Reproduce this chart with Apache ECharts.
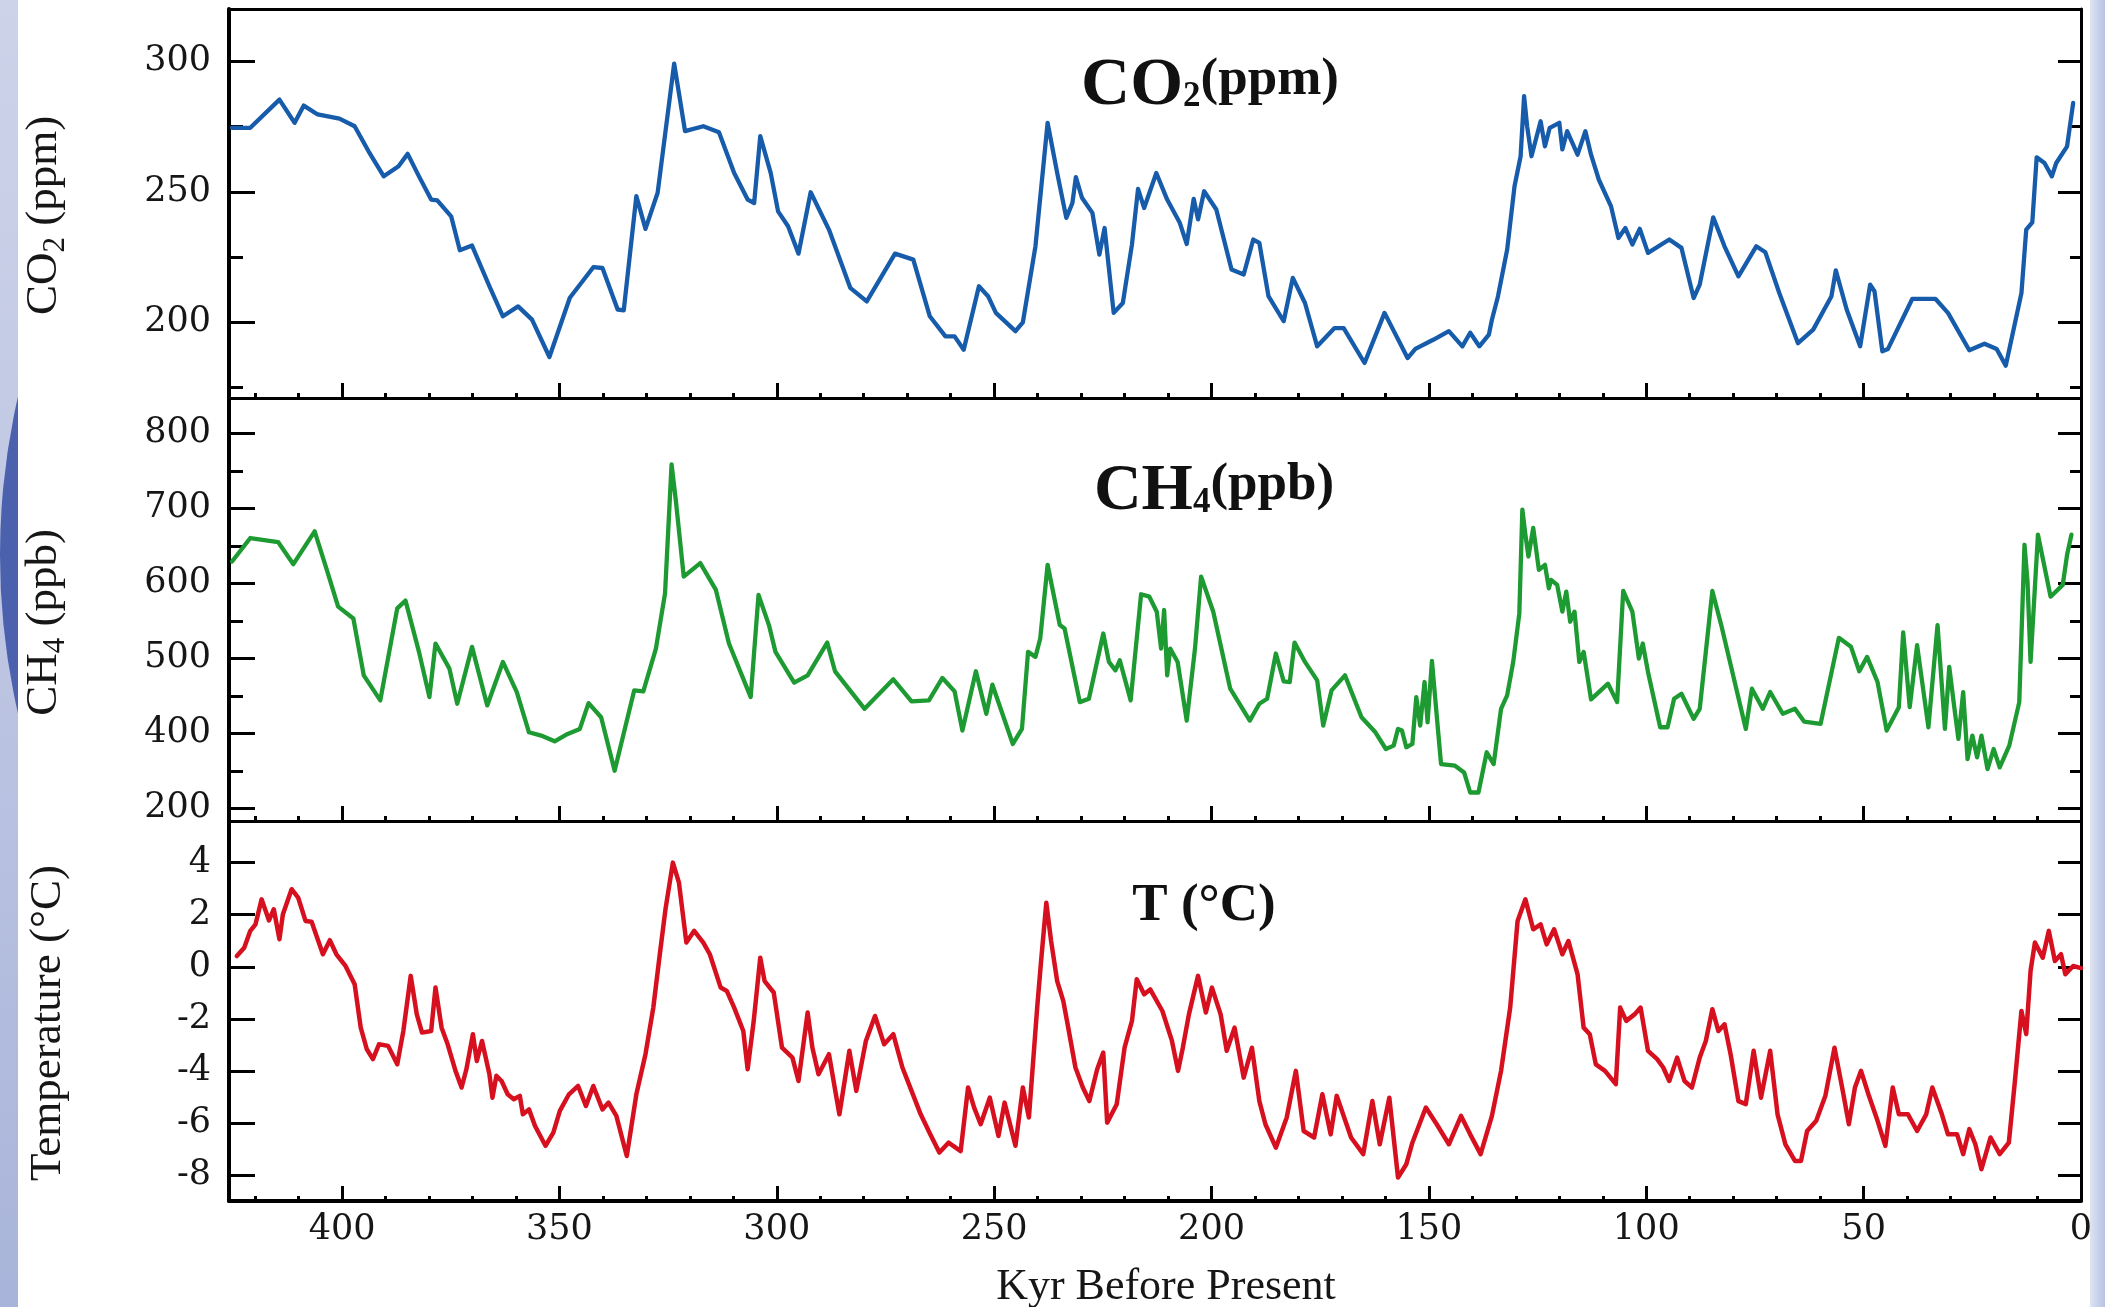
<!DOCTYPE html>
<html>
<head>
<meta charset="utf-8">
<script src="https://cdn.jsdelivr.net/npm/echarts@6.0.0/dist/echarts.min.js"></script>
<style>
html,body{margin:0;padding:0;width:2105px;height:1307px;overflow:hidden;background:#ffffff;}
#bgL{position:absolute;left:0;top:0;width:18px;height:1307px;overflow:hidden;
  background:linear-gradient(to bottom,#cdd3e9 0%,#c4cbe5 30%,#b7c0e0 65%,#a9b4da 100%);}
#cres{position:absolute;left:0;top:-151px;width:1412px;height:1412px;border-radius:50%;background:#4b61ad;}
#bgR{position:absolute;left:2090px;top:0;width:15px;height:1307px;
  background:linear-gradient(to right,#dfe4f2 0%,#c6cfe9 60%,#b9c4e4 100%);}
#chart{position:absolute;left:0;top:0;width:2105px;height:1307px;}
</style>
</head>
<body>
<div id="bgL"><div id="cres"></div></div>
<div id="bgR"></div>
<div id="chart"></div>
<script>
// ---------------- data ----------------
const co2Age = [
425.3,421.1,414.4,410.9,408.8,405.6,400.6,397.1,393.9,390.4,
387.0,384.9,382.3,379.5,378.1,374.9,372.9,370.1,366.1,363.0,
359.5,356.3,352.3,347.6,342.2,340.1,336.6,335.2,332.3,330.2,
327.4,323.6,321.1,316.9,313.3,309.8,306.7,305.2,303.8,301.4,
299.7,297.4,295.0,292.2,288.0,283.1,279.3,272.8,268.6,264.8,
261.2,259.1,257.0,253.5,251.4,249.6,245.1,243.4,240.5,237.7,
235.5,233.4,232.0,231.2,229.8,227.4,225.8,224.6,222.5,220.4,
218.3,216.9,215.5,212.7,210.2,207.3,205.7,204.1,203.1,201.7,
198.9,195.4,192.6,190.4,189.0,186.9,183.4,181.3,178.5,175.7,
171.7,169.6,164.8,160.2,154.9,153.1,148.9,145.4,142.3,140.5,
138.4,136.2,135.5,134.1,132.0,130.3,128.9,128.1,127.4,126.4,
124.3,123.3,122.2,120.0,119.3,118.2,115.8,114.0,112.7,110.9,
108.1,106.4,104.8,103.2,101.5,99.6,94.7,91.9,89.1,87.7,
84.6,82.0,78.8,74.7,72.6,69.4,65.1,61.6,57.4,56.4,
53.9,50.8,48.5,47.5,45.7,44.4,38.8,33.5,30.6,25.7,
22.2,19.4,17.3,13.7,12.6,11.2,10.2,8.4,6.7,5.7,
3.2,1.8];
const co2Ppm = [
274.5,274.5,285.3,276.4,283.0,279.6,278.0,275.1,265.5,255.9,
259.8,264.5,255.9,247.0,246.7,240.6,227.6,229.4,213.8,202.3,
206.1,201.0,186.7,209.4,221.1,220.8,204.9,204.6,248.3,235.8,
249.6,299.1,273.2,275.1,272.8,257.2,247.0,245.7,271.3,257.2,
242.5,236.8,226.3,249.8,235.5,213.2,208.0,226.3,224.0,202.3,
194.6,194.6,189.5,213.8,210.0,203.6,196.6,200.0,229.1,276.4,
257.2,240.0,245.7,255.6,247.7,241.9,225.9,236.1,203.6,207.4,
229.8,251.1,243.8,257.2,247.0,238.1,230.0,247.3,239.4,250.2,
243.2,220.2,218.3,231.7,230.4,210.0,200.4,217.0,207.4,190.8,
197.8,197.8,184.4,203.6,186.3,189.8,193.4,196.6,190.8,196.0,
190.8,195.3,201.0,210.0,227.8,252.1,263.6,286.6,275.1,263.6,
277.0,267.4,274.5,276.4,266.2,273.2,264.2,273.2,264.2,254.6,
244.4,232.3,236.1,229.8,235.8,226.6,231.7,228.5,209.3,214.4,
240.2,229.1,217.6,229.1,226.8,211.2,192.0,197.2,210.0,219.9,
204.9,190.8,214.4,211.9,188.9,189.8,209.0,209.0,203.6,189.3,
191.8,189.8,183.4,211.2,235.5,238.3,263.2,261.0,255.9,261.0,
267.4,284.0];

const ch4Age = [
425.3,421.1,414.7,411.2,406.3,403.5,400.9,397.4,395.0,391.2,
387.3,385.4,382.3,379.9,378.5,375.3,373.5,370.1,366.6,363.0,
359.8,357.0,354.2,351.1,348.1,345.3,343.3,340.4,337.3,332.8,
330.7,327.8,325.7,324.2,323.2,321.4,317.6,314.0,311.0,306.0,
304.2,301.8,300.3,296.0,292.9,288.4,286.6,279.8,273.2,269.0,
265.0,261.9,259.1,257.3,254.2,251.8,250.4,245.7,243.6,242.2,
240.5,239.4,237.7,234.9,233.8,230.3,228.2,224.9,223.6,222.1,
221.1,218.6,216.2,214.3,212.6,211.6,210.9,210.2,209.5,207.8,
205.7,203.8,202.4,199.6,195.7,191.2,189.0,187.2,185.2,183.4,
182.0,180.9,178.5,175.7,174.3,172.4,169.3,165.5,162.3,159.9,
158.1,157.1,156.2,155.2,153.8,152.9,152.0,151.0,150.3,149.3,
148.2,147.2,144.0,141.9,140.5,138.6,136.7,135.1,133.4,132.0,
130.6,129.2,128.5,127.8,127.1,126.0,124.7,123.3,122.4,121.9,
120.5,119.3,118.4,117.5,116.5,115.4,114.4,112.7,108.8,106.7,
105.3,103.2,101.7,100.8,99.6,96.8,95.1,93.6,91.9,89.1,
87.7,84.8,82.7,77.1,75.7,73.2,71.5,68.6,65.8,63.7,
59.9,55.7,52.9,51.0,49.2,46.8,44.7,41.9,40.9,39.4,
37.7,35.1,33.0,31.3,30.3,29.2,28.2,27.1,26.1,25.0,
23.9,22.9,21.5,20.1,18.7,16.5,14.2,13.0,12.3,11.6,
9.9,7.0,4.2,3.2,2.2];
const ch4Ppb = [
629.0,660.3,654.9,625.4,669.2,617.9,568.8,553.1,477.2,443.8,
566.5,576.8,508.5,448.2,519.6,486.2,439.3,515.2,437.1,495.1,
454.9,401.3,396.9,389.3,399.1,405.8,440.2,421.4,350.0,457.1,
455.8,512.9,586.6,758.5,709.4,608.9,626.8,591.1,519.6,448.2,
584.4,544.2,508.5,467.4,477.2,520.9,482.6,432.6,471.9,442.4,
443.8,473.7,455.8,403.6,482.6,425.9,464.7,385.7,405.8,508.5,
501.8,526.3,624.6,544.2,539.7,441.5,446.0,533.0,495.1,483.9,
497.3,443.8,585.3,582.1,562.1,512.9,564.3,477.2,512.9,495.1,
416.9,512.9,608.9,562.1,459.4,416.9,439.3,446.0,506.3,469.2,
468.3,520.9,495.1,470.5,410.3,457.1,477.2,421.4,401.3,379.0,
383.5,405.8,403.6,381.3,385.7,448.2,410.3,468.3,414.7,496.4,
423.7,358.9,356.7,347.8,321.0,321.0,374.6,358.9,432.6,450.4,
495.1,559.8,698.2,664.7,635.7,673.7,617.9,624.6,593.3,604.5,
597.8,562.1,588.8,548.7,562.1,495.1,508.5,445.1,466.1,441.5,
589.7,562.1,499.6,519.6,481.7,408.0,408.0,446.0,452.7,419.2,
432.6,589.7,542.9,405.8,459.4,432.6,455.0,426.0,432.6,415.6,
412.5,527.2,515.2,482.6,501.8,468.3,403.6,434.8,534.4,434.8,
517.4,408.0,544.2,405.8,488.4,437.1,392.4,454.9,365.6,396.9,
367.9,396.9,352.2,379.0,354.5,383.5,441.5,651.3,602.2,495.1,
664.7,582.1,597.8,637.9,664.7];

const tAge = [
424.2,422.5,421.1,419.9,418.5,416.8,415.7,414.4,413.6,411.6,
410.1,408.4,407.0,404.4,402.8,401.3,399.2,397.1,395.7,394.3,
392.9,391.5,389.4,387.3,385.9,384.2,382.8,381.6,379.5,378.5,
377.1,375.7,373.9,372.5,371.4,369.9,369.0,367.8,366.1,365.4,
364.5,363.3,361.9,360.5,359.1,358.4,357.0,355.6,353.2,351.4,
349.9,347.8,345.7,343.9,342.2,340.1,338.7,336.9,334.5,332.3,
330.2,328.4,327.0,325.6,323.9,322.5,320.8,319.0,316.9,315.4,
312.9,311.5,309.8,307.7,306.7,305.3,303.8,302.8,300.7,298.8,
296.4,295.0,292.9,291.8,290.4,288.0,285.6,283.3,281.7,279.5,
277.4,275.3,273.2,271.1,269.0,266.9,264.5,262.6,260.5,257.7,
256.0,254.6,253.1,251.0,249.0,247.6,245.1,243.4,242.0,240.1,
239.2,238.0,236.9,235.5,234.1,233.1,231.3,229.6,228.1,226.3,
224.9,224.0,221.8,220.0,218.3,217.2,215.5,214.1,211.3,209.1,
207.7,206.6,205.2,203.1,201.3,199.9,197.9,196.5,194.7,192.6,
190.7,189.0,187.6,185.2,182.7,180.6,178.8,176.4,174.5,172.6,
171.2,167.9,165.1,163.0,161.3,159.1,157.1,155.2,153.8,150.7,
148.2,145.4,142.6,140.5,138.1,135.5,133.4,131.3,129.6,127.8,
126.0,124.3,122.9,121.2,119.3,117.9,115.8,114.4,113.0,111.6,
109.5,107.0,106.0,104.6,102.7,101.3,99.6,97.5,96.1,94.7,
92.9,91.2,89.5,87.7,86.3,84.8,83.4,82.0,80.6,78.8,
77.1,75.3,73.6,71.5,69.8,68.0,65.8,64.4,63.0,60.9,
58.8,56.7,54.8,53.4,52.0,50.6,48.9,46.8,45.0,43.3,
41.9,39.8,37.7,35.6,34.2,32.0,30.6,28.5,27.1,25.7,
24.3,22.9,20.8,18.7,16.6,15.2,13.7,12.6,11.6,10.6,
8.8,7.4,6.0,4.6,3.6,1.8,0.0];
const tDeg = [
0.41,0.73,1.38,1.63,2.59,1.78,2.21,1.06,2.02,2.98,
2.66,1.76,1.73,0.48,1.02,0.48,0.03,-0.67,-2.34,-3.17,
-3.55,-2.98,-3.04,-3.75,-2.47,-0.35,-1.83,-2.53,-2.47,-0.80,
-2.34,-2.98,-4.00,-4.64,-3.94,-2.59,-3.62,-2.85,-4.13,-5.03,
-4.19,-4.39,-4.90,-5.09,-4.96,-5.67,-5.48,-6.12,-6.88,-6.37,
-5.54,-4.90,-4.58,-5.35,-4.58,-5.48,-5.22,-5.73,-7.27,-4.90,
-3.36,-1.57,0.35,2.21,4.00,3.23,0.93,1.38,0.93,0.48,
-0.80,-0.93,-1.57,-2.47,-3.94,-2.08,0.35,-0.55,-0.99,-3.11,
-3.49,-4.39,-1.76,-3.11,-4.13,-3.36,-5.67,-3.23,-4.77,-2.85,
-1.89,-2.98,-2.59,-3.87,-4.77,-5.67,-6.50,-7.14,-6.76,-7.08,
-4.64,-5.41,-6.05,-5.03,-6.50,-5.22,-6.88,-4.64,-5.79,-1.57,
0.22,2.46,0.99,-0.55,-1.31,-2.21,-3.87,-4.64,-5.16,-3.94,
-3.30,-5.99,-5.28,-3.11,-2.08,-0.48,-1.06,-0.87,-1.70,-2.85,
-4.00,-3.11,-1.83,-0.35,-1.76,-0.80,-1.83,-3.23,-2.34,-4.26,
-3.11,-5.16,-6.05,-6.95,-5.79,-4.00,-6.31,-6.56,-4.90,-6.44,
-4.96,-6.56,-7.20,-5.16,-6.82,-5.03,-8.10,-7.59,-6.76,-5.41,
-6.05,-6.82,-5.73,-6.44,-7.20,-5.73,-4.00,-1.57,1.76,2.59,
1.44,1.63,0.86,1.44,0.48,0.99,-0.29,-2.34,-2.59,-3.75,
-4.00,-4.51,-1.57,-2.08,-1.83,-1.57,-3.23,-3.55,-3.87,-4.39,
-3.49,-4.39,-4.64,-3.49,-2.85,-1.63,-2.47,-2.21,-3.36,-5.16,
-5.28,-3.23,-5.03,-3.23,-5.67,-6.82,-7.46,-7.46,-6.31,-5.92,
-4.96,-3.11,-4.77,-6.05,-4.64,-4.00,-4.90,-5.92,-6.88,-4.64,
-5.67,-5.67,-6.31,-5.67,-4.64,-5.67,-6.44,-6.44,-7.20,-6.24,
-6.82,-7.78,-6.56,-7.20,-6.76,-4.39,-1.70,-2.59,-0.16,0.93,
0.35,1.38,0.22,0.48,-0.29,0.03,-0.05];

// tick values / labels
const ageTicks = [400, 350, 300, 250, 200, 150, 100, 50, 0];
const ageRange = [0, 426];
const co2Ticks = [200, 250, 300];
const co2MinorTicks = [175, 225, 275];
const co2Range = [171, 320];
const ch4Ticks = [300, 400, 500, 600, 700, 800];
const ch4TickLabels = ['200', '400', '500', '600', '700', '800'];
const ch4MinorTicks = [350, 450, 550, 650, 750];
const ch4Range = [283, 847];
const tTicks = [-8, -6, -4, -2, 0, 2, 4];
const tRange = [-9, 5.6];
const xName = 'Kyr Before Present';

// ---------------- chart ----------------
const FONT = "'Liberation Serif','Times New Roman',serif";
const TICKFONT = "'DejaVu Serif','Liberation Serif',serif";
const INK = '#161616';
const ageMinorTicks = [];
for (let a = 10; a <= 420; a += 10) if (a % 50 !== 0) ageMinorTicks.push(a);

function zip(xs, ys) { return xs.map((x, i) => [x, ys[i]]); }

const grids = [
  { left: 229, width: 1852, top: 9, height: 389 },
  { left: 229, width: 1852, top: 398, height: 423 },
  { left: 229, width: 1852, top: 821, height: 380 }
].map(g => Object.assign({ containLabel: false, outerBoundsMode: 'none' }, g));

const xAxes = [];
const yAxes = [];

function addX(gi, withLabels) {
  const base = { gridIndex: gi, type: 'value', min: ageRange[0], max: ageRange[1], inverse: true,
    splitLine: { show: false }, axisPointer: { show: false } };
  const idx = xAxes.length;
  xAxes.push(Object.assign({}, base, {
    position: 'bottom',
    axisLine: { show: true, onZero: false, lineStyle: { color: '#000', width: gi === 2 ? 4 : 3 } },
    axisTick: { show: true, inside: true, length: 15, customValues: ageTicks, lineStyle: { color: '#000', width: 3 } },
    axisLabel: withLabels ? { show: true, customValues: ageTicks, margin: 11, fontFamily: TICKFONT, fontSize: 35, color: INK } : { show: false },
    name: withLabels ? xName : '',
    nameLocation: 'middle', nameGap: 64,
    nameTextStyle: { fontFamily: FONT, fontSize: 44, color: INK, padding: [0, 0, 0, 22] }
  }));
  xAxes.push(Object.assign({}, base, {
    position: 'bottom',
    axisLine: { show: false, onZero: false },
    axisTick: { show: true, inside: true, length: 5, customValues: ageMinorTicks, lineStyle: { color: '#000', width: 3 } },
    axisLabel: { show: false }
  }));
  xAxes.push(Object.assign({}, base, {
    position: 'top',
    axisLine: { show: true, onZero: false, lineStyle: { color: '#000', width: 3 } },
    axisTick: { show: false }, axisLabel: { show: false }
  }));
  return idx;
}

function addY(gi, range, ticks, minor, formatter, name, nameRich, namePad) {
  const base = { gridIndex: gi, type: 'value', min: range[0], max: range[1], splitLine: { show: false }, axisPointer: { show: false } };
  const idx = yAxes.length;
  yAxes.push(Object.assign({}, base, {
    position: 'left',
    axisLine: { show: true, onZero: false, lineStyle: { color: '#000', width: 4 } },
    axisTick: { show: true, inside: true, length: 26, customValues: ticks, lineStyle: { color: '#000', width: 3 } },
    axisLabel: { show: true, customValues: ticks, margin: 18, fontFamily: TICKFONT, fontSize: 35, color: INK, formatter: formatter },
    name: name, nameLocation: 'middle', nameRotate: 90, nameGap: 158,
    nameTextStyle: { fontFamily: FONT, fontSize: 45, color: INK, padding: namePad, rich: nameRich }
  }));
  if (minor) {
    yAxes.push(Object.assign({}, base, {
      position: 'left', axisLine: { show: false, onZero: false },
      axisTick: { show: true, inside: true, length: 14, customValues: minor, lineStyle: { color: '#000', width: 3 } },
      axisLabel: { show: false }
    }));
  }
  yAxes.push(Object.assign({}, base, {
    position: 'right',
    axisLine: { show: true, onZero: false, lineStyle: { color: '#000', width: 3 } },
    axisTick: { show: true, inside: true, length: 23, customValues: ticks, lineStyle: { color: '#000', width: 3 } },
    axisLabel: { show: false }
  }));
  if (minor) {
    yAxes.push(Object.assign({}, base, {
      position: 'right', axisLine: { show: false, onZero: false },
      axisTick: { show: true, inside: true, length: 11, customValues: minor, lineStyle: { color: '#000', width: 3 } },
      axisLabel: { show: false }
    }));
  }
  return idx;
}

const subRich = {
  n: { fontFamily: FONT, fontSize: 45, color: INK, verticalAlign: 'top' },
  s: { fontFamily: FONT, fontSize: 31, color: INK, verticalAlign: 'top', padding: [18, 0, 0, 0] }
};

const x0 = addX(0, false), x1 = addX(1, false), x2 = addX(2, true);
const y0 = addY(0, co2Range, co2Ticks, co2MinorTicks, v => String(v),
  '{n|CO}{s|2}{n| (ppm)}', subRich, [0, 24, 0, 0]);
const y1 = addY(1, ch4Range, ch4Ticks, ch4MinorTicks, v => ch4TickLabels[ch4Ticks.indexOf(v)],
  '{n|CH}{s|4}{n| (ppb)}', subRich, [0, 26, 0, 0]);
const y2 = addY(2, tRange, tTicks, null, v => String(v),
  'Temperature (°C)', null, [0, 24, 0, 0]);

function titleText(x, y, text, rich) {
  return { type: 'text', x: x, y: y, z: 10, silent: true,
    style: { text: text, align: 'center', verticalAlign: 'top', rich: rich,
      fontFamily: FONT, fontSize: 53, fontWeight: 'bold', fill: '#111' } };
}
const big = (fs, pad) => ({ fontFamily: FONT, fontSize: fs, fontWeight: 'bold', fill: '#111', color: '#111', verticalAlign: 'top', padding: [pad, 0, 0, 0] });

const lineBase = { symbol: 'none', showSymbol: false, z: 3 };
const option = {
  animation: false,
  backgroundColor: 'transparent',
  textStyle: { fontFamily: FONT, color: INK },
  grid: grids,
  xAxis: xAxes,
  yAxis: yAxes,
  graphic: [
    titleText(1210, 52, '{a|CO}{b|2}{c|(ppm)}', { a: big(68, 0), b: big(35, 27), c: big(53, 2) }),
    titleText(1214, 459, '{a|CH}{b|4}{c|(ppb)}', { a: big(66, 0), b: big(35, 26), c: big(53, 0) }),
    titleText(1204, 880, '{a|T (°C)}', { a: big(53, 0) })
  ],
  series: [
    Object.assign({ name: 'CO2', type: 'line', xAxisIndex: x0, yAxisIndex: y0, data: zip(co2Age, co2Ppm),
      lineStyle: { color: '#175bab', width: 4.3, join: 'round', cap: 'round' } }, lineBase),
    Object.assign({ name: 'CH4', type: 'line', xAxisIndex: x1, yAxisIndex: y1, data: zip(ch4Age, ch4Ppb),
      lineStyle: { color: '#1d9a31', width: 4.3, join: 'round', cap: 'round' } }, lineBase),
    Object.assign({ name: 'T', type: 'line', xAxisIndex: x2, yAxisIndex: y2, data: zip(tAge, tDeg),
      lineStyle: { color: '#d6101e', width: 4.5, join: 'round', cap: 'round' } }, lineBase)
  ]
};

const chart = echarts.init(document.getElementById('chart'), null, { renderer: 'canvas', width: 2105, height: 1307 });
chart.setOption(option);
</script>
</body>
</html>
